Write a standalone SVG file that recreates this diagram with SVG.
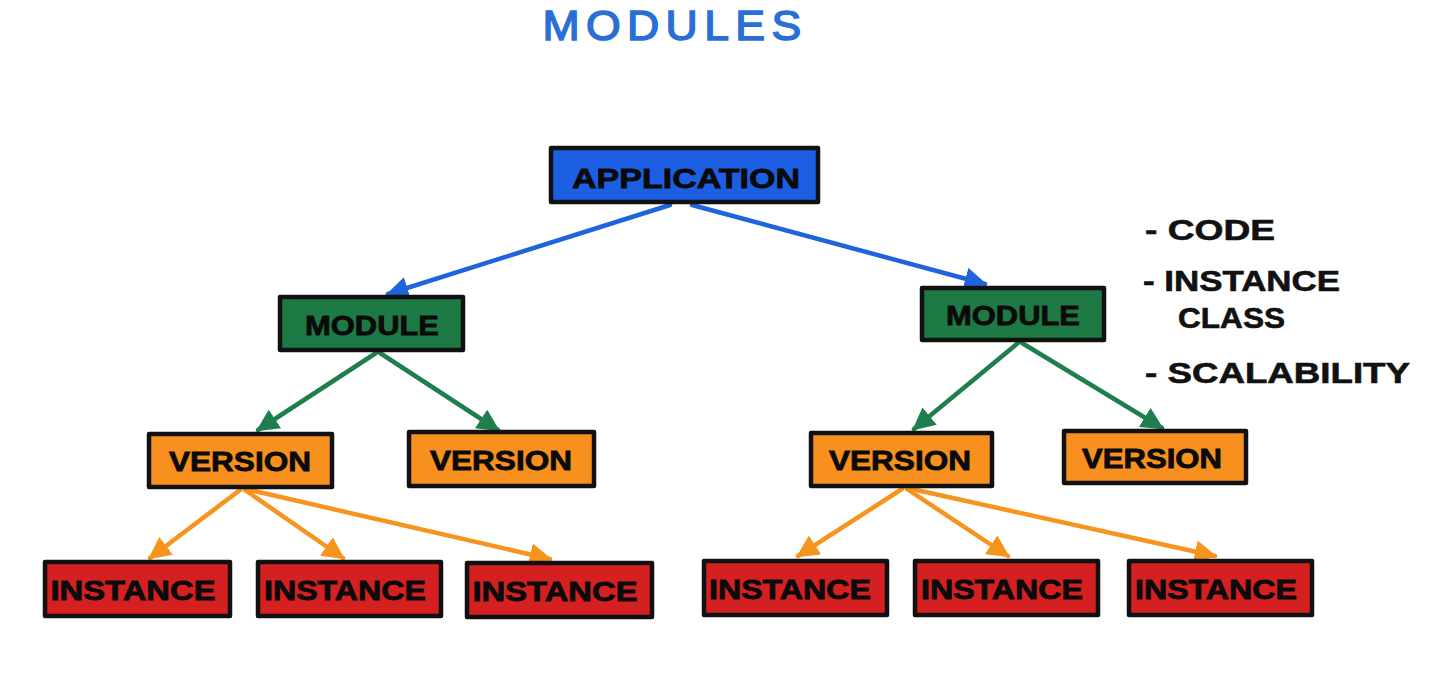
<svg xmlns="http://www.w3.org/2000/svg" width="1434" height="697" viewBox="0 0 1434 697">
<style>
.box{stroke:#111;stroke-width:4.5;stroke-linejoin:round}
.lbl{font-family:"Liberation Sans",Arial,sans-serif;font-weight:bold;fill:#0a0a0a;stroke:#0a0a0a;stroke-width:0.8;text-anchor:middle}
.side{font-family:"Liberation Sans",Arial,sans-serif;font-weight:bold;fill:#111;stroke:#111;stroke-width:0.6;font-size:29px}
.edge{fill:none;stroke-width:4.5;stroke-linecap:round}
</style>
<defs>
<marker id="aB" viewBox="0 0 10 10" refX="9" refY="5" markerWidth="5" markerHeight="5" orient="auto"><path d="M0,0 L10,5 L0,10 Z" fill="#1f63de"/></marker>
<marker id="aG" viewBox="0 0 10 10" refX="9" refY="5" markerWidth="5" markerHeight="5" orient="auto"><path d="M0,0 L10,5 L0,10 Z" fill="#1e7f4c"/></marker>
<marker id="aO" viewBox="0 0 10 10" refX="9" refY="5" markerWidth="5" markerHeight="5" orient="auto"><path d="M0,0 L10,5 L0,10 Z" fill="#f7941d"/></marker>
</defs>
<rect width="1434" height="697" fill="#ffffff"/>
<text x="675" y="40" font-family="'Liberation Sans',Arial,sans-serif" font-size="42" fill="#2a6fd6" stroke="#2a6fd6" stroke-width="1.5" text-anchor="middle" letter-spacing="6" textLength="265" lengthAdjust="spacingAndGlyphs">MODULES</text>
<g id="connectors">
<line class="edge" stroke="#1f63de" marker-end="url(#aB)" x1="670" y1="205" x2="388" y2="294"/>
<line class="edge" stroke="#1f63de" marker-end="url(#aB)" x1="692" y1="205" x2="985" y2="284"/>
<line class="edge" stroke="#1e7f4c" marker-end="url(#aG)" x1="376" y1="353" x2="258" y2="430"/>
<line class="edge" stroke="#1e7f4c" marker-end="url(#aG)" x1="380" y1="353" x2="498" y2="430"/>
<line class="edge" stroke="#1e7f4c" marker-end="url(#aG)" x1="1018" y1="343" x2="914" y2="429"/>
<line class="edge" stroke="#1e7f4c" marker-end="url(#aG)" x1="1022" y1="343" x2="1162" y2="428"/>
<line class="edge" stroke="#f7941d" marker-end="url(#aO)" x1="240" y1="490" x2="150" y2="558"/>
<line class="edge" stroke="#f7941d" marker-end="url(#aO)" x1="245" y1="490" x2="343" y2="558"/>
<line class="edge" stroke="#f7941d" marker-end="url(#aO)" x1="250" y1="490" x2="550" y2="559"/>
<line class="edge" stroke="#f7941d" marker-end="url(#aO)" x1="902" y1="489" x2="798" y2="556"/>
<line class="edge" stroke="#f7941d" marker-end="url(#aO)" x1="907" y1="489" x2="1008" y2="556"/>
<line class="edge" stroke="#f7941d" marker-end="url(#aO)" x1="912" y1="489" x2="1215" y2="556"/>
</g>
<g id="application"><rect class="box" x="551" y="148" width="267" height="54" fill="#1c5fe3"/><text class="lbl" x="686" y="188" font-size="28" textLength="228" lengthAdjust="spacingAndGlyphs">APPLICATION</text></g>
<g id="module-left"><rect class="box" x="280" y="297" width="183" height="53" fill="#1e7a45"/><text class="lbl" x="372" y="335" font-size="28" textLength="134" lengthAdjust="spacingAndGlyphs">MODULE</text></g>
<g id="module-right"><rect class="box" x="922" y="288" width="182" height="52" fill="#1e7a45"/><text class="lbl" x="1013" y="325" font-size="28" textLength="134" lengthAdjust="spacingAndGlyphs">MODULE</text></g>
<g id="version-1"><rect class="box" x="149" y="434" width="183" height="53" fill="#f7901e"/><text class="lbl" x="240" y="471" font-size="27" textLength="142" lengthAdjust="spacingAndGlyphs">VERSION</text></g>
<g id="version-2"><rect class="box" x="409" y="432" width="185" height="54" fill="#f7901e"/><text class="lbl" x="501" y="470" font-size="27" textLength="142" lengthAdjust="spacingAndGlyphs">VERSION</text></g>
<g id="version-3"><rect class="box" x="811" y="433" width="181" height="53" fill="#f7901e"/><text class="lbl" x="900" y="470" font-size="27" textLength="142" lengthAdjust="spacingAndGlyphs">VERSION</text></g>
<g id="version-4"><rect class="box" x="1064" y="431" width="182" height="52" fill="#f7901e"/><text class="lbl" x="1152" y="468" font-size="27" textLength="140" lengthAdjust="spacingAndGlyphs">VERSION</text></g>
<g id="instance-1"><rect class="box" x="45" y="562" width="185" height="54" fill="#d42020"/><text class="lbl" x="133" y="600" font-size="27" textLength="165" lengthAdjust="spacingAndGlyphs">INSTANCE</text></g>
<g id="instance-2"><rect class="box" x="258" y="562" width="183" height="54" fill="#d42020"/><text class="lbl" x="345" y="600" font-size="27" textLength="162" lengthAdjust="spacingAndGlyphs">INSTANCE</text></g>
<g id="instance-3"><rect class="box" x="467" y="563" width="185" height="54" fill="#d42020"/><text class="lbl" x="555" y="601" font-size="27" textLength="165" lengthAdjust="spacingAndGlyphs">INSTANCE</text></g>
<g id="instance-4"><rect class="box" x="704" y="561" width="183" height="54" fill="#d42020"/><text class="lbl" x="790" y="599" font-size="27" textLength="162" lengthAdjust="spacingAndGlyphs">INSTANCE</text></g>
<g id="instance-5"><rect class="box" x="915" y="561" width="183" height="54" fill="#d42020"/><text class="lbl" x="1002" y="599" font-size="27" textLength="162" lengthAdjust="spacingAndGlyphs">INSTANCE</text></g>
<g id="instance-6"><rect class="box" x="1129" y="561" width="183" height="54" fill="#d42020"/><text class="lbl" x="1216" y="599" font-size="27" textLength="162" lengthAdjust="spacingAndGlyphs">INSTANCE</text></g>
<g id="notes">
<text class="side" x="1145" y="240" textLength="130" lengthAdjust="spacingAndGlyphs">- CODE</text>
<text class="side" x="1143" y="291" textLength="197" lengthAdjust="spacingAndGlyphs">- INSTANCE</text>
<text class="side" x="1178" y="328" textLength="107" lengthAdjust="spacingAndGlyphs">CLASS</text>
<text class="side" x="1145" y="383" textLength="265" lengthAdjust="spacingAndGlyphs">- SCALABILITY</text>
</g>
</svg>
